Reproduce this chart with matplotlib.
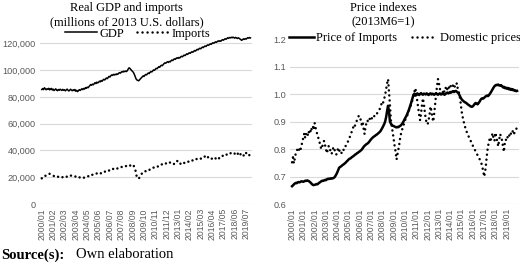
"""Real GDP and imports next to price indexes, monthly 2000-2019."""

import matplotlib

matplotlib.use("Agg")
import matplotlib.pyplot as plt
import numpy as np
import pandas as pd

MONTHS = [d.strftime("%Y/%m") for d in pd.date_range("2000-01-01", periods=240, freq="MS")]

# thousands of millions of 2013 U.S. dollars, one row per year
GDP_K = [
    85.5, 86.2, 85.4, 86.8, 86.0, 85.3, 86.1, 85.6, 86.4, 85.2, 85.9, 86.3,
    85.1, 85.8, 84.7, 85.4, 86.0, 85.0, 84.6, 85.5, 84.9, 85.7, 85.2, 84.8,
    85.6, 84.9, 85.3, 84.5, 85.2, 85.8, 85.0, 84.4, 85.1, 85.7, 85.0, 84.6,
    85.3, 84.7, 85.5, 84.2, 84.9, 83.9, 84.6, 85.4, 84.8, 85.5, 86.1, 85.4,
    86.3, 85.8, 86.9, 86.4, 87.3, 86.8, 87.6, 88.4, 89.2, 88.7, 89.5, 89.0,
    89.8, 90.6, 89.9, 91.0, 90.4, 90.9, 91.7, 91.2, 92.2, 91.6, 92.5, 93.1,
    92.6, 93.4, 94.1, 93.6, 94.5, 95.3, 94.8, 95.7, 96.4, 96.0, 96.8, 96.3,
    96.9, 96.5, 97.2, 96.8, 97.6, 98.1, 97.7, 98.4, 98.9, 98.5, 99.2, 98.8,
    99.3, 98.9, 99.6, 100.8, 101.7, 101.2, 100.4, 99.6, 99.0, 98.2, 96.8, 95.1,
    93.4, 92.6, 92.3, 92.0, 92.8, 93.5, 94.2, 94.9, 95.6, 95.2, 96.1, 96.7,
    96.4, 97.2, 97.8, 97.4, 98.3, 98.9, 98.6, 99.4, 100.1, 99.8, 100.6, 101.3,
    101.0, 101.8, 102.5, 102.1, 103.0, 103.6, 103.3, 104.1, 104.8, 105.4, 105.1, 105.8,
    106.2, 105.7, 106.5, 106.1, 106.9, 107.5, 107.1, 107.9, 108.4, 108.0, 108.8, 109.2,
    108.7, 109.4, 109.0, 109.8, 110.3, 109.9, 110.6, 111.2, 110.8, 111.5, 112.1, 111.7,
    112.4, 112.9, 112.5, 113.2, 113.7, 113.3, 114.0, 114.6, 114.2, 114.9, 115.5, 115.1,
    115.8, 116.3, 115.9, 116.6, 117.2, 116.8, 117.5, 118.0, 117.6, 118.3, 118.8, 118.5,
    119.1, 119.6, 119.2, 119.9, 120.4, 120.0, 120.6, 121.1, 120.7, 121.3, 121.8, 121.4,
    121.9, 121.5, 122.2, 122.7, 122.3, 122.9, 123.4, 123.0, 123.6, 124.1, 123.7, 124.3,
    124.0, 124.5, 124.1, 124.6, 124.2, 123.8, 124.4, 124.0, 123.6, 124.1, 123.7, 123.2,
    122.6, 122.2, 122.8, 123.3, 122.9, 123.5, 123.1, 123.7, 124.2, 123.8, 124.3, 124.0,
]
IMPORTS_K = [
    19.2, 20.1, 20.8, 21.3, 21.0, 21.6, 22.0, 21.7, 22.3, 22.6, 22.1, 21.5,
    21.2, 20.8, 21.0, 20.6, 20.9, 20.4, 20.7, 20.2, 20.5, 20.0, 20.3, 19.9,
    20.1, 20.4, 19.8, 20.2, 20.6, 20.3, 20.8, 21.2, 20.9, 21.4, 21.0, 20.7,
    20.9, 20.5, 20.8, 20.3, 20.6, 20.1, 20.4, 19.8, 20.1, 19.6, 19.9, 19.5,
    19.8, 19.5, 20.0, 20.3, 20.1, 20.7, 21.2, 21.0, 21.6, 21.3, 21.9, 22.2,
    22.0, 22.5, 22.3, 22.9, 22.6, 23.2, 23.6, 23.3, 22.8, 23.4, 23.9, 24.3,
    24.0, 24.6, 24.3, 24.9, 25.3, 25.0, 25.6, 25.9, 25.4, 26.0, 26.3, 25.8,
    26.1, 26.6, 26.3, 26.8, 27.2, 26.9, 27.4, 27.8, 27.5, 28.0, 28.3, 27.9,
    28.2, 28.5, 28.1, 28.7, 29.0, 28.6, 29.2, 28.8, 28.3, 28.9, 27.6, 26.5,
    22.0, 20.4, 19.3, 18.8, 20.0, 21.5, 22.3, 22.9, 23.6, 23.3, 24.1, 24.6,
    24.4, 25.0, 25.6, 25.3, 26.0, 26.4, 26.1, 26.7, 27.2, 26.9, 27.5, 27.9,
    28.3, 28.0, 28.6, 29.1, 28.8, 29.4, 29.8, 29.5, 30.1, 30.6, 30.2, 30.8,
    31.0, 30.6, 31.3, 30.9, 31.5, 31.1, 30.7, 30.2, 29.6, 30.3, 31.2, 32.0,
    32.5, 31.8, 30.5, 30.0, 29.6, 30.2, 29.8, 30.6, 31.2, 30.9, 31.5, 31.9,
    31.6, 32.2, 31.9, 32.5, 32.8, 32.4, 33.0, 33.3, 32.9, 33.5, 33.8, 33.4,
    33.9, 34.2, 33.8, 34.4, 34.7, 34.3, 34.9, 35.8, 34.5, 34.9, 35.2, 34.6,
    33.8, 33.2, 33.6, 34.0, 33.5, 32.9, 33.4, 34.1, 33.6, 32.8, 33.5, 34.2,
    34.8, 35.5, 35.1, 35.9, 36.4, 36.0, 36.7, 37.2, 36.8, 37.5, 37.9, 37.4,
    37.8, 38.3, 37.9, 38.5, 38.1, 37.6, 38.4, 39.0, 38.2, 36.9, 35.8, 36.7,
    37.5, 38.2, 37.3, 36.4, 35.6, 37.0, 38.1, 37.4, 36.2, 35.9, 36.8, 36.3,
]
IMPORT_PRICE = [
    0.665, 0.668, 0.672, 0.675, 0.677, 0.676, 0.679, 0.680, 0.679, 0.681, 0.683, 0.682,
    0.681, 0.683, 0.685, 0.684, 0.686, 0.685, 0.683, 0.680, 0.677, 0.673, 0.670, 0.669,
    0.670, 0.671, 0.673, 0.672, 0.675, 0.678, 0.680, 0.683, 0.685, 0.684, 0.686, 0.688,
    0.687, 0.690, 0.692, 0.691, 0.693, 0.692, 0.694, 0.693, 0.695, 0.697, 0.702, 0.708,
    0.715, 0.724, 0.732, 0.735, 0.737, 0.740, 0.743, 0.745, 0.748, 0.751, 0.755, 0.758,
    0.762, 0.765, 0.766, 0.769, 0.772, 0.774, 0.777, 0.780, 0.782, 0.785, 0.787, 0.790,
    0.792, 0.795, 0.798, 0.803, 0.808, 0.812, 0.815, 0.818, 0.820, 0.823, 0.827, 0.832,
    0.836, 0.840, 0.843, 0.846, 0.848, 0.851, 0.853, 0.856, 0.859, 0.862, 0.866, 0.872,
    0.878, 0.885, 0.892, 0.902, 0.918, 0.940, 0.958, 0.935, 0.900, 0.893, 0.888, 0.885,
    0.884, 0.882, 0.880, 0.879, 0.881, 0.880, 0.883, 0.885, 0.888, 0.893, 0.898, 0.905,
    0.912, 0.918, 0.925, 0.933, 0.942, 0.952, 0.963, 0.975, 0.988, 0.998, 1.002, 0.995,
    0.998, 1.003, 1.000, 0.997, 1.001, 1.004, 1.000, 0.998, 1.002, 1.001, 0.999, 1.003,
    1.000, 0.997, 1.001, 1.003, 0.999, 1.002, 1.000, 0.998, 1.001, 1.004, 1.000, 0.998,
    1.001, 1.003, 0.999, 1.000, 1.002, 1.000, 0.998, 1.001, 1.004, 1.006, 1.003, 1.005,
    1.008, 1.006, 1.009, 1.011, 1.008, 1.010, 1.012, 1.009, 1.006, 1.002, 0.995, 0.988,
    0.982, 0.978, 0.975, 0.972, 0.970, 0.968, 0.965, 0.962, 0.960, 0.957, 0.955, 0.954,
    0.956, 0.960, 0.965, 0.968, 0.966, 0.963, 0.967, 0.972, 0.978, 0.983, 0.985, 0.984,
    0.987, 0.990, 0.993, 0.995, 0.993, 0.996, 1.001, 1.006, 1.012, 1.018, 1.024, 1.029,
    1.032, 1.034, 1.033, 1.035, 1.032, 1.031, 1.033, 1.029, 1.025, 1.027, 1.022, 1.024,
    1.020, 1.023, 1.018, 1.021, 1.016, 1.019, 1.015, 1.017, 1.013, 1.014, 1.011, 1.012,
]
DOMESTIC_PRICE = [
    0.752, 0.770, 0.748, 0.768, 0.785, 0.795, 0.800, 0.792, 0.805, 0.798, 0.812, 0.828,
    0.842, 0.858, 0.840, 0.856, 0.862, 0.848, 0.865, 0.872, 0.860, 0.878, 0.885, 0.870,
    0.895, 0.878, 0.865, 0.850, 0.840, 0.828, 0.815, 0.800, 0.808, 0.822, 0.830, 0.815,
    0.800, 0.785, 0.798, 0.812, 0.805, 0.790, 0.782, 0.795, 0.808, 0.800, 0.786, 0.780,
    0.792, 0.805, 0.798, 0.788, 0.782, 0.790, 0.800, 0.796, 0.806, 0.812, 0.820, 0.825,
    0.832, 0.840, 0.852, 0.860, 0.868, 0.880, 0.875, 0.888, 0.898, 0.905, 0.915, 0.922,
    0.918, 0.905, 0.890, 0.900, 0.875, 0.855, 0.880, 0.895, 0.905, 0.898, 0.908, 0.912,
    0.905, 0.915, 0.922, 0.918, 0.925, 0.930, 0.928, 0.935, 0.940, 0.945, 0.955, 0.965,
    0.960, 0.972, 0.985, 1.000, 1.020, 1.040, 1.055, 1.010, 0.960, 0.905, 0.880, 0.860,
    0.835, 0.810, 0.790, 0.762, 0.780, 0.800, 0.820, 0.845, 0.860, 0.872, 0.880, 0.895,
    0.905, 0.912, 0.920, 0.928, 0.940, 0.948, 0.958, 0.968, 0.980, 0.995, 1.010, 1.022,
    1.000, 0.975, 0.950, 0.925, 0.905, 0.930, 0.960, 0.985, 0.965, 0.935, 0.910, 0.895,
    0.890, 0.905, 0.925, 0.955, 0.940, 0.915, 0.900, 0.930, 0.965, 1.000, 1.030, 1.055,
    1.040, 1.020, 1.005, 0.998, 1.010, 1.000, 1.015, 1.025, 1.012, 1.020, 1.030, 1.018,
    1.025, 1.035, 1.028, 1.032, 1.038, 1.025, 1.030, 1.040, 1.020, 1.010, 0.995, 0.970,
    0.940, 0.920, 0.905, 0.890, 0.878, 0.868, 0.858, 0.850, 0.842, 0.835, 0.828, 0.820,
    0.812, 0.805, 0.798, 0.792, 0.785, 0.778, 0.772, 0.765, 0.758, 0.750, 0.735, 0.722,
    0.700, 0.715, 0.745, 0.780, 0.808, 0.825, 0.840, 0.832, 0.845, 0.858, 0.840, 0.830,
    0.860, 0.842, 0.828, 0.810, 0.835, 0.855, 0.845, 0.832, 0.810, 0.790, 0.822, 0.835,
    0.830, 0.845, 0.855, 0.848, 0.860, 0.852, 0.862, 0.870, 0.858, 0.865, 0.872, 0.880,
]

LEFT_TICKS = [
    "2000/01", "2001/02", "2002/03", "2003/04", "2004/05", "2005/06", "2006/07",
    "2007/08", "2008/09", "2009/10", "2010/11", "2011/12", "2013/01", "2014/02",
    "2015/03", "2016/04", "2017/05", "2018/06", "2019/07",
]
RIGHT_TICKS = [f"{year}/01" for year in range(2000, 2020)]
GDP_YTICKS = [0, 20000, 40000, 60000, 80000, 100000, 120000]
PRICE_YTICKS = [0.6, 0.7, 0.8, 0.9, 1.0, 1.1, 1.2]

SERIF = "Liberation Serif"
TICK_FONT = "Liberation Sans"
TICK_COLOR = "#595959"
GRID = "#d9d9d9"
DOTS = dict(linestyle=(0, (0.01, 2.0)), dash_capstyle="round")
TEXT_SIZE = 9


def style_axis(ax, xticks):
    ax.set_xlim(-2, len(MONTHS) + 1)
    ax.set_xticks([MONTHS.index(label) for label in xticks])
    ax.set_xticklabels(xticks, rotation=90, fontsize=6.2, family=TICK_FONT, color=TICK_COLOR)
    for label in ax.get_yticklabels():
        label.set_fontsize(6.6)
        label.set_family(TICK_FONT)
        label.set_color(TICK_COLOR)
    ax.tick_params(length=0, pad=3)
    ax.grid(axis="y", color=GRID, linewidth=0.8)
    ax.set_axisbelow(True)
    for spine in ax.spines.values():
        spine.set_visible(False)


fig = plt.figure(figsize=(5.2, 2.65), dpi=100)
x = np.arange(len(MONTHS))

left = fig.add_axes([0.077, 0.23, 0.408, 0.637])
left.plot(x, np.array(GDP_K) * 1000, color="black", linewidth=1.1, label="GDP")
left.plot(x, np.array(IMPORTS_K) * 1000, color="black", linewidth=1.8, label="Imports", **DOTS)
left.set_ylim(0, 126000)
left.set_yticks(GDP_YTICKS)
left.yaxis.set_major_formatter(matplotlib.ticker.StrMethodFormatter("{x:,.0f}"))
style_axis(left, LEFT_TICKS)
left.legend(loc="center", bbox_to_anchor=(0.46, 1.01), ncol=2, frameon=False,
            prop={"family": SERIF, "size": TEXT_SIZE}, handlelength=2.6, columnspacing=1.0,
            handletextpad=0.2, borderaxespad=0, borderpad=0)
fig.text(0.243, 0.970, "Real GDP and imports", ha="center", va="center", family=SERIF,
         fontsize=TEXT_SIZE)
fig.text(0.243, 0.917, "(millions of 2013 U.S. dollars)", ha="center", va="center",
         family=SERIF, fontsize=TEXT_SIZE)

right = fig.add_axes([0.558, 0.23, 0.44, 0.627])
right.plot(x, IMPORT_PRICE, color="black", linewidth=1.8, label="Price of Imports")
right.plot(x, DOMESTIC_PRICE, color="black", linewidth=1.8, label="Domestic prices", **DOTS)
right.set_ylim(0.6, 1.205)
right.set_yticks(PRICE_YTICKS)
right.yaxis.set_major_formatter(matplotlib.ticker.StrMethodFormatter("{x:.1f}"))
style_axis(right, RIGHT_TICKS)
right.legend(loc="center", bbox_to_anchor=(0.5, 1.0), ncol=2, frameon=True, facecolor="white",
             edgecolor="none", framealpha=1, prop={"family": SERIF, "size": TEXT_SIZE},
             handlelength=2.0, columnspacing=1.2, handletextpad=0.2, borderpad=0.1,
             borderaxespad=0, fancybox=False)
fig.text(0.737, 0.970, "Price indexes", ha="center", va="center", family=SERIF,
         fontsize=TEXT_SIZE)
fig.text(0.737, 0.917, "(2013M6=1)", ha="center", va="center", family=SERIF,
         fontsize=TEXT_SIZE)

fig.text(0.002, 0.038, "Source(s):", family=SERIF, fontsize=10.5, fontweight="bold",
         ha="left", va="center")
fig.text(0.146, 0.038, "Own elaboration", family=SERIF, fontsize=10.5, ha="left",
         va="center")

fig.savefig("out.png", dpi=100)
